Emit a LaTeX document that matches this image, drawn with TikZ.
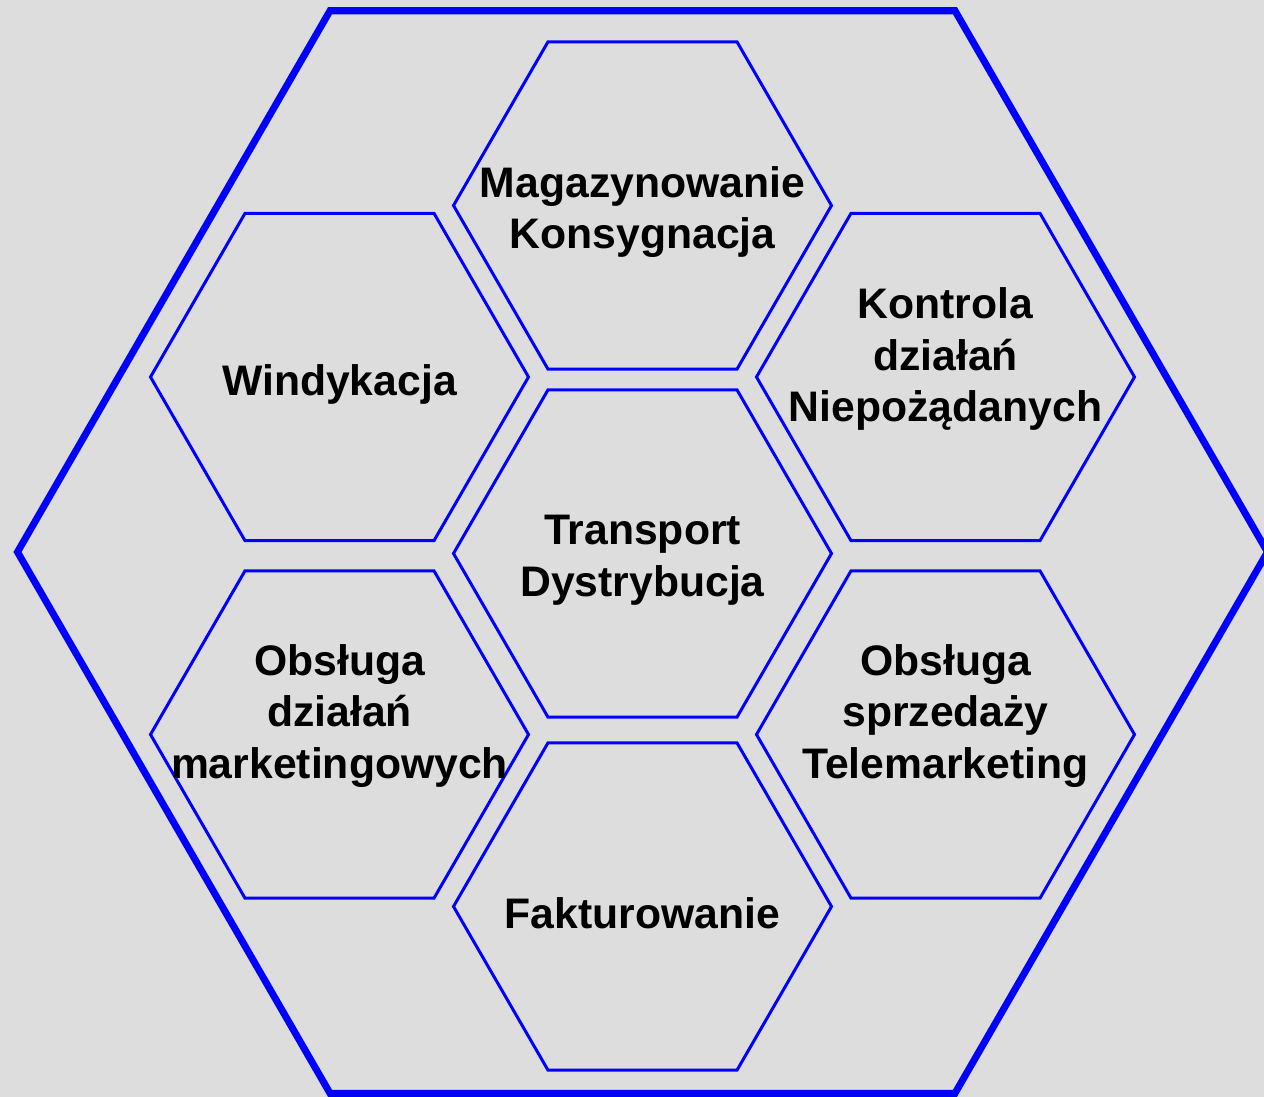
\documentclass[tikz,border=0pt]{standalone}
\usepackage{fontspec}
\setmainfont{Liberation Sans}
\definecolor{bggray}{RGB}{221,221,221}
\definecolor{hexblue}{RGB}{0,0,255}
\tikzset{
  outerhex/.style={draw=hexblue, line width=7*0.2mm},
  innerhex/.style={draw=hexblue, line width=3*0.2mm},
  label/.style={align=center, font=\fontsize{24.3}{29.5}\selectfont\bfseries, text=black, inner sep=0pt}
}
\newcommand\hexpath[4]{% cx cy R style
  \draw[#4, shift={(#1,#2)}] (-#3,0) -- (-0.5*#3,-0.866*#3) -- (0.5*#3,-0.866*#3) -- (#3,0) -- (0.5*#3,0.866*#3) -- (-0.5*#3,0.866*#3) -- cycle;}
\begin{document}
\begin{tikzpicture}[x=0.2mm,y=-0.2mm]
\fill[bggray] (0,0) rectangle (1264,1097);
\useasboundingbox (0,0) rectangle (1264,1097);
\hexpath{642.5}{552}{625}{outerhex}
\hexpath{642.5}{205.5}{189}{innerhex}
\hexpath{642.5}{553.5}{189}{innerhex}
\hexpath{642.5}{906.5}{189}{innerhex}
\hexpath{339.5}{377}{189}{innerhex}
\hexpath{339.5}{734.5}{189}{innerhex}
\hexpath{945.5}{377}{189}{innerhex}
\hexpath{945.5}{734.5}{189}{innerhex}
\node[label] (mag) at (642.5,212) {Magazynowanie\\Konsygnacja};
\node[label] (win) at (339.5,384) {Windykacja};
\node[label] (kon) at (945.5,359) {Kontrola\\działań\\Niepożądanych};
\node[label] (tra) at (642.5,560) {Transport\\Dystrybucja};
\node[label] (mar) at (339.5,716) {Obsługa\\działań\\marketingowych};
\node[label] (sprz) at (945.5,716) {Obsługa\\sprzedaży\\Telemarketing};
\node[label] (fak) at (642.5,913) {Fakturowanie};
\end{tikzpicture}
\end{document}
